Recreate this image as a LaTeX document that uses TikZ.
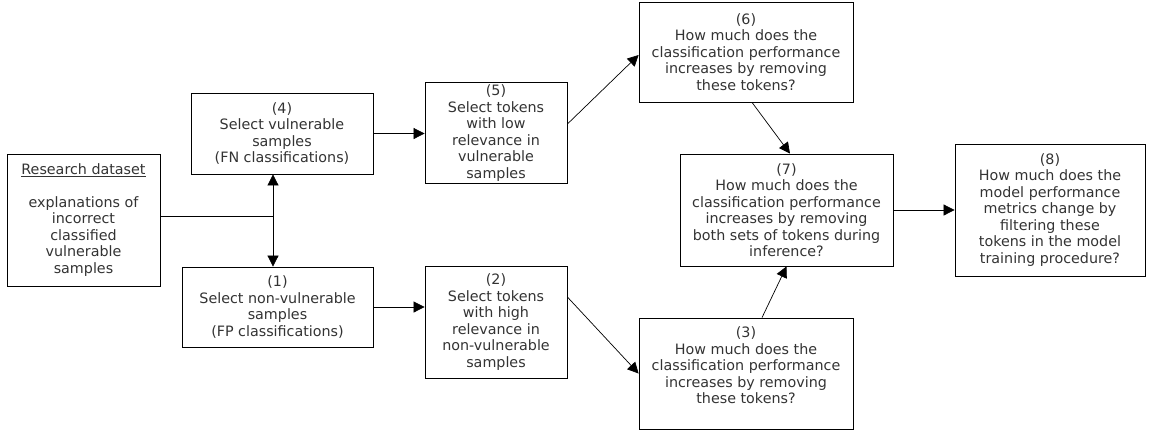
\documentclass[tikz,border=0pt]{standalone}
\usepackage{fontspec}
\setmainfont{DejaVu Sans}
\usetikzlibrary{arrows.meta}
\tikzset{
  stepbox/.style={draw, line width=0.8pt, align=center, inner sep=2pt,
    text=black!80, font=\fontsize{14.3}{16.5}\selectfont},
  flow/.style={-{Triangle[length=11pt,width=11pt]}, line width=0.7pt},
}
\begin{document}
\begin{tikzpicture}[x=1pt,y=-1pt]
\useasboundingbox (0,0) rectangle (1150,432);
\node[stepbox, minimum width=153pt, minimum height=132pt] (data) at (83.5,220)
  {\underline{Research dataset}\\[16.5pt] explanations of\\incorrect\\classified\\vulnerable\\samples};
\node[stepbox, minimum width=182pt, minimum height=81pt] (sel4) at (282,133.5)
  {(4)\\Select vulnerable\\samples\\(FN classifications)};
\node[stepbox, minimum width=191pt, minimum height=80pt] (sel1) at (277.5,307)
  {(1)\\Select non-vulnerable\\samples\\(FP classifications)};
\node[stepbox, minimum width=142pt, minimum height=82pt] (tok5) at (496,133)
  {(5)\\Select tokens\\with low\\relevance in\\vulnerable\\samples};
\node[stepbox, minimum width=142pt, minimum height=112pt] (tok2) at (496,322)
  {(2)\\Select tokens\\with high\\relevance in\\non-vulnerable\\samples};
\node[stepbox, minimum width=214pt, minimum height=100pt] (q6) at (746,52)
  {(6)\\How much does the\\classification performance\\increases by removing\\these tokens?};
\node[stepbox, minimum width=213pt, minimum height=112pt] (q7) at (786.5,210)
  {(7)\\How much does the\\classification performance\\increases by removing\\both sets of tokens during\\inference?};
\node[stepbox, minimum width=214pt, minimum height=111pt] (q3) at (746,373.5)
  {(3)\\How much does the\\classification performance\\increases by removing\\these tokens?\\[0pt]};
\node[stepbox, minimum width=190pt, minimum height=132pt] (q8) at (1050,210)
  {(8)\\How much does the\\model performance\\metrics change by\\filtering these\\tokens in the model\\training procedure?};

\coordinate (split) at (273,216);
\draw[line width=0.7pt] (data.east |- split) -- (split);
\draw[flow] (split) -- (split |- sel4.south);
\draw[flow] (split) -- (split |- sel1.north);
\draw[flow] (sel4.east) -- (tok5.west |- sel4.east);
\draw[flow] (sel1.east) -- (tok2.west |- sel1.east);
\draw[flow] ([yshift=9pt]tok5.east) -- ([yshift=-3pt]q6.west);
\draw[flow] ([yshift=25pt]tok2.east) -- (q3.west);
\draw[flow] ([xshift=6pt]q6.south) -- ([xshift=3.5pt]q7.north);
\draw[flow] ([xshift=16pt]q3.north) -- (q7.south);
\draw[flow] (q7.east) -- (q8.west |- q7.east);
\end{tikzpicture}
\end{document}
